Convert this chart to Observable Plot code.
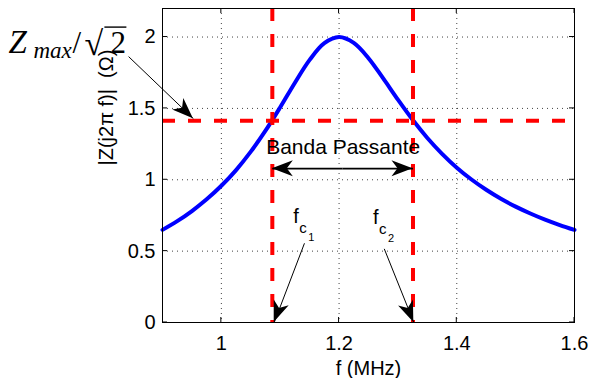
<!DOCTYPE html>
<html>
<head>
<meta charset="utf-8">
<script src="https://cdn.jsdelivr.net/npm/d3@7"></script>
<script src="https://cdn.jsdelivr.net/npm/@observablehq/plot@0.6"></script>
<style>
  html, body { margin: 0; padding: 0; background: #fff; }
  #chart svg { display: block; }
</style>
</head>
<body>
<div id="chart"></div>
<script>
// ---- data ----
const freqMHz = [0.9, 0.925, 0.95, 0.975, 1.0, 1.025, 1.05, 1.075, 1.1, 1.125, 1.15, 1.175, 1.2,
                 1.225, 1.25, 1.275, 1.3, 1.325, 1.35, 1.375, 1.4, 1.425, 1.45, 1.475, 1.5, 1.525, 1.55, 1.575, 1.6];
const impedance = [0.649, 0.710, 0.781, 0.863, 0.958, 1.068, 1.197, 1.344, 1.508, 1.680, 1.840, 1.957, 2.0,
                   1.959, 1.852, 1.710, 1.561, 1.420, 1.293, 1.182, 1.085, 1.002, 0.930, 0.867, 0.812, 0.764, 0.721, 0.683, 0.649];
const xTicks = [1, 1.2, 1.4, 1.6];
const xTickLabels = ["1", "1.2", "1.4", "1.6"];
const yTicks = [0, 0.5, 1, 1.5, 2];
const yTickLabels = ["0", "0.5", "1", "1.5", "2"];
const halfPowerLevel = [1.414];          // Zmax / sqrt(2)
const cutoffFreqs = [1.0866, 1.3256];    // fc1, fc2
const cutoffSubs = ["1", "2"];
const cutoffLabelX = [1.122, 1.2576];
const cutoffLabelY = [0.700, 0.693];
const bandLabel = ["Banda Passante"];
const bandLabelX = [1.207];
const bandLabelY = [1.183];
const arrowFromX = [0.8424, 1.1412, 1.2768, 1.2061, 1.2061];
const arrowFromY = [1.863, 0.555, 0.516, 1.078, 1.078];
const arrowToX   = [0.9525, 1.0898, 1.327, 1.0866, 1.3256];
const arrowToY   = [1.428, 0.0, 0.0, 1.078, 1.078];
const arrowWidth = [1, 1, 1, 1.6, 1.6];
const zLabelX = 0.639, zLabelY = 1.884;
const xLabel = "f (MHz)";
const yLabel = "|Z(j2\u03c0 f)|  (\u03a9)";

const curve = freqMHz.map((f, i) => ({f, z: impedance[i]}));
const arrows = arrowFromX.map((_, i) => ({x1: arrowFromX[i], y1: arrowFromY[i], x2: arrowToX[i], y2: arrowToY[i], w: arrowWidth[i]}));
const cutoffLabels = cutoffFreqs.map((_, i) => ({x: cutoffLabelX[i], y: cutoffLabelY[i], sub: cutoffSubs[i]}));

const sans = "'Liberation Sans', Arial, Helvetica, sans-serif";
const serif = "'Liberation Serif', 'Times New Roman', serif";

// custom layer: inward ticks, arrow heads, Zmax/sqrt(2) label
function annotationLayer(index, scales, values, dimensions) {
  const {x, y} = scales;
  const {width, height, marginLeft, marginRight, marginTop, marginBottom} = dimensions;
  const g = d3.create("svg:g");
  const left = marginLeft, right = width - marginRight, top = marginTop, bottom = height - marginBottom;
  const tk = 5;
  for (const t of xTicks) {
    const px = x(t);
    g.append("line").attr("x1", px).attr("x2", px).attr("y1", bottom).attr("y2", bottom - tk).attr("stroke", "#000");
    g.append("line").attr("x1", px).attr("x2", px).attr("y1", top).attr("y2", top + tk).attr("stroke", "#000");
  }
  for (const t of yTicks) {
    const py = y(t);
    g.append("line").attr("y1", py).attr("y2", py).attr("x1", left).attr("x2", left + tk).attr("stroke", "#000");
    g.append("line").attr("y1", py).attr("y2", py).attr("x1", right).attr("x2", right - tk).attr("stroke", "#000");
  }
  // filled arrowheads (MATLAB vback2 style)
  const L = 21, W = 8, notch = 6;
  for (const a of arrows) {
    const sx = x(a.x1), sy = y(a.y1), tx = x(a.x2), ty = y(a.y2);
    const len = Math.hypot(tx - sx, ty - sy);
    const ux = (tx - sx) / len, uy = (ty - sy) / len;
    const nx = -uy, ny = ux;
    const pts = [
      [tx, ty],
      [tx - L * ux + W * nx, ty - L * uy + W * ny],
      [tx - (L - notch) * ux, ty - (L - notch) * uy],
      [tx - L * ux - W * nx, ty - L * uy - W * ny]
    ];
    g.append("path").attr("d", "M" + pts.map(p => p.join(",")).join("L") + "Z").attr("fill", "#000");
  }
  // Zmax / sqrt(2)
  const ax = x(zLabelX), ay = y(zLabelY);
  const lab = g.append("g").attr("font-family", serif).attr("fill", "#000").attr("text-anchor", "start");
  lab.append("text").attr("x", ax).attr("y", ay).attr("font-size", 33).attr("font-style", "italic").text("Z");
  lab.append("text").attr("x", ax + 25).attr("y", ay + 5).attr("font-size", 23).attr("font-style", "italic").text("max");
  lab.append("text").attr("x", ax + 64).attr("y", ay).attr("font-size", 31).text("/");
  lab.append("text").attr("x", ax + 76).attr("y", ay + 2).attr("font-size", 34).text("\u221a");
  lab.append("text").attr("x", ax + 102).attr("y", ay).attr("font-size", 31).text("2");
  lab.append("line").attr("x1", ax + 96).attr("x2", ax + 118).attr("y1", ay - 26).attr("y2", ay - 26)
    .attr("stroke", "#000").attr("stroke-width", 1.4);
  return g.node();
}

const chart = Plot.plot({
  width: 590,
  height: 378,
  marginLeft: 162,
  marginRight: 16,
  marginTop: 8,
  marginBottom: 56,
  style: {fontFamily: sans, fontSize: "20px", background: "#fff", color: "#000", overflow: "visible"},
  x: {domain: [0.9, 1.6]},
  y: {domain: [0, 2.2]},
  marks: [
    Plot.gridX(xTicks.slice(0, 3), {stroke: "#000", strokeOpacity: 0.75, strokeDasharray: "1,4"}),
    Plot.gridY(yTicks.slice(1), {stroke: "#000", strokeOpacity: 0.75, strokeDasharray: "1,4"}),
    Plot.line(curve, {x: "f", y: "z", stroke: "#0000ff", strokeWidth: 4, curve: "catmull-rom"}),
    Plot.ruleY(halfPowerLevel, {stroke: "#ff0000", strokeWidth: 4, strokeDasharray: "13,13"}),
    Plot.ruleX(cutoffFreqs, {stroke: "#ff0000", strokeWidth: 4, strokeDasharray: "13,13"}),
    Plot.frame({stroke: "#000", strokeWidth: 1}),
    Plot.axisX(xTicks, {tickSize: 0, tickPadding: 13, fontSize: 20, label: null, tickFormat: d => xTickLabels[xTicks.indexOf(d)]}),
    Plot.axisY(yTicks, {tickSize: 0, tickPadding: 7, fontSize: 20, label: null, tickFormat: d => yTickLabels[yTicks.indexOf(d)]}),
    Plot.text([xLabel], {frameAnchor: "bottom", lineAnchor: "bottom", dy: 52, fontSize: 20, text: d => d}),
    Plot.text([yLabel], {frameAnchor: "left", lineAnchor: "bottom", rotate: -90, dx: -50, fontSize: 20, text: d => d}),
    Plot.text(bandLabel, {x: bandLabelX, y: bandLabelY, text: d => d, lineAnchor: "bottom", fontSize: 21}),
    Plot.link(arrows, {x1: "x1", y1: "y1", x2: "x2", y2: "y2", stroke: "#000", strokeWidth: "w"}),
    Plot.text(cutoffLabels, {x: "x", y: "y", text: () => "f", textAnchor: "start", lineAnchor: "bottom", fontSize: 20}),
    Plot.text(cutoffLabels, {x: "x", y: "y", text: () => "c", textAnchor: "start", lineAnchor: "bottom", fontSize: 15, dx: 6, dy: 10}),
    Plot.text(cutoffLabels, {x: "x", y: "y", text: "sub", textAnchor: "start", lineAnchor: "bottom", fontSize: 11, dx: 15, dy: 18}),
    annotationLayer
  ]
});
document.getElementById("chart").appendChild(chart);
</script>
</body>
</html>
